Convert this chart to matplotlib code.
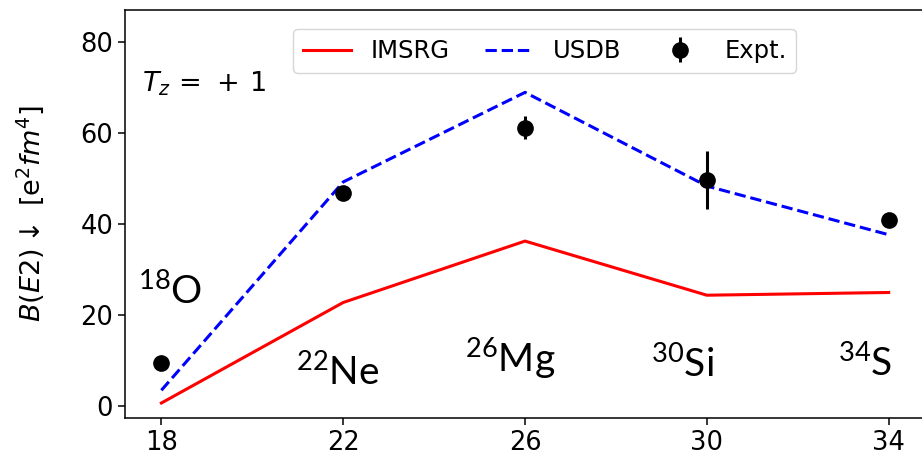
import matplotlib
matplotlib.use("Agg")
import matplotlib.pyplot as plt

# mass number A of the T_z = +1 nuclei
mass = [18, 22, 26, 30, 34]
nuclei = ["18O", "22Ne", "26Mg", "30Si", "34S"]

imsrg = [0.6, 22.7, 36.2, 24.3, 24.9]
usdb = [3.4, 49.2, 68.9, 48.3, 37.6]
expt = [9.3, 46.7, 61.1, 49.7, 40.8]
expt_err = [0.3, 1.0, 2.5, 6.4, 1.0]

# where the nuclide names sit (data coords, left/baseline)
label_x = [17.49, 20.97, 24.69, 28.78, 32.88]
label_y = [22.5, 4.55, 7.4, 6.3, 6.7]

fig = plt.figure(figsize=(9.22, 4.58), dpi=100)
ax = fig.add_axes([0.1356, 0.0873, 0.8677, 0.8908])

ax.plot(mass, imsrg, color="red", lw=2.2, label="IMSRG")
ax.plot(mass, usdb, color="blue", lw=2.2, ls="--", label="USDB")
ax.errorbar(mass, expt, yerr=expt_err, fmt="o", color="black",
            ms=11, elinewidth=2.2, label="Expt.")

ax.set_xlim(17.2, 34.8)
ax.set_ylim(-2.7, 87)
ax.set_xticks(mass)
ax.set_yticks([0, 20, 40, 60, 80])
ax.tick_params(labelsize=18.5, length=5, width=1.1)
for s in ax.spines.values():
    s.set_linewidth(1.1)

ax.set_ylabel(r"$B(E2)\downarrow$ [e$^2fm^4$]", fontsize=19.5, labelpad=25)

ax.text(17.58, 70.9, r"$T_z\,=\,+\,1$", fontsize=19.5, va="center", ha="left")

for name, x, y in zip(nuclei, label_x, label_y):
    num = "".join(c for c in name if c.isdigit())
    el = "".join(c for c in name if c.isalpha())
    ax.text(x, y, r"$\mathregular{^{%s}%s}$" % (num, el), family="Lato",
            fontsize=28, ha="left", va="baseline")

ax.legend(ncol=3, mode="expand", loc="lower left",
          bbox_to_anchor=(0.21, 0.846, 0.629, 0.117),
          handlelength=2.0, handletextpad=0.8, borderaxespad=0,
          prop={"size": 17.5})

fig.savefig("out.png", dpi=100)
